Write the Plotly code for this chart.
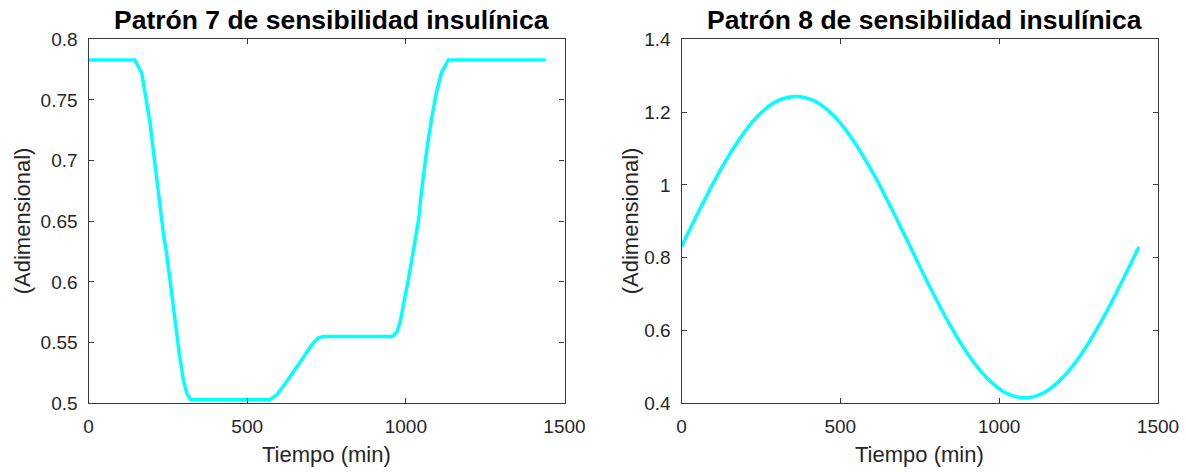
import plotly.graph_objects as go
from plotly.subplots import make_subplots

# Patrón 7: perfil por tramos (tiempo en min, valor adimensional)
t7 = [0, 146, 168, 181, 194, 204, 215, 227, 236, 246, 259, 273, 286, 299, 310, 322,
      572, 593, 614, 646, 677, 703, 724, 740,
      958, 972, 982, 992, 1008, 1024, 1040, 1050, 1066, 1082, 1098, 1113, 1134, 1440]
s7 = [0.783, 0.783, 0.772, 0.753, 0.731, 0.709, 0.684, 0.659, 0.640, 0.624, 0.596, 0.569, 0.541, 0.519, 0.508, 0.503,
      0.503, 0.507, 0.514, 0.526, 0.538, 0.548, 0.554, 0.555,
      0.555, 0.559, 0.567, 0.580, 0.602, 0.626, 0.651, 0.676, 0.709, 0.736, 0.758, 0.773, 0.783, 0.783]

# Patrón 8: variación ondulante a lo largo del día
t8 = [0, 60, 120, 180, 240, 300, 360, 420, 480, 540, 600, 660, 720,
      780, 840, 900, 960, 1020, 1080, 1140, 1200, 1260, 1320, 1380, 1440]
s8 = [0.830, 0.937, 1.037, 1.123, 1.189, 1.230, 1.243, 1.230, 1.189, 1.123, 1.037, 0.937, 0.830,
      0.723, 0.623, 0.537, 0.471, 0.429, 0.415, 0.429, 0.471, 0.537, 0.623, 0.723, 0.830]

titles = ["Patrón 7 de sensibilidad insulínica", "Patrón 8 de sensibilidad insulínica"]
x_title = "Tiempo (min)"
y_title = "(Adimensional)"

W, H = 1186, 472
FONT = "Liberation Sans, Arial, Helvetica, sans-serif"
AX = "#3a3a3a"
TXT = "#262626"

fig = make_subplots(rows=1, cols=2)
fig.add_trace(go.Scatter(x=t7, y=s7, mode="lines", line=dict(color="#00FFFF", width=3.5),
                         showlegend=False), row=1, col=1)
fig.add_trace(go.Scatter(x=t8, y=s8, mode="lines", line=dict(color="#00FFFF", width=3.5, shape="spline"),
                         showlegend=False), row=1, col=2)

# plot areas in pixels
left = (88.5, 564.5)
right = (681.5, 1158.0)
top, bottom = 39.3, 403.3
ydom = [1 - bottom / H, 1 - top / H]

axis_common = dict(
    showgrid=False, zeroline=False, showline=True, linecolor=AX, linewidth=1.2,
    mirror="allticks", ticks="inside", ticklen=5, tickwidth=1, tickcolor=AX,
    tickfont=dict(family=FONT, size=19, color=TXT), automargin=False,
)

fig.update_xaxes(range=[0, 1500], tickvals=[0, 500, 1000, 1500], ticklabelstandoff=6, **axis_common)
fig.update_yaxes(ticklabelstandoff=6, **axis_common)
fig.update_layout(
    xaxis=dict(domain=[left[0] / W, left[1] / W]),
    xaxis2=dict(domain=[right[0] / W, right[1] / W]),
    yaxis=dict(domain=ydom, range=[0.5, 0.8], tickvals=[0.5, 0.55, 0.6, 0.65, 0.7, 0.75, 0.8],
               ticktext=["0.5", "0.55", "0.6", "0.65", "0.7", "0.75", "0.8"]),
    yaxis2=dict(domain=ydom, range=[0.4, 1.4], tickvals=[0.4, 0.6, 0.8, 1.0, 1.2, 1.4],
                ticktext=["0.4", "0.6", "0.8", "1", "1.2", "1.4"]),
    width=W, height=H, margin=dict(l=0, r=0, t=0, b=0),
    paper_bgcolor="white", plot_bgcolor="white",
)

annotations = []
for (x0, x1), title, ylab_x in [(left, titles[0], 22), (right, titles[1], 630)]:
    cx = (x0 + x1) / 2 / W
    annotations.append(dict(text="<b>" + title + "</b>", x=cx + 5 / W, y=1 - 20 / H, xref="paper", yref="paper",
                            xanchor="center", yanchor="middle", showarrow=False,
                            font=dict(family=FONT, size=26.5, color="black")))
    annotations.append(dict(text=x_title, x=cx, y=1 - 454 / H, xref="paper", yref="paper",
                            xanchor="center", yanchor="middle", showarrow=False,
                            font=dict(family=FONT, size=22, color=TXT)))
    annotations.append(dict(text=y_title, x=ylab_x / W, y=1 - ((top + bottom) / 2) / H, xref="paper", yref="paper",
                            xanchor="center", yanchor="middle", textangle=-90, showarrow=False,
                            font=dict(family=FONT, size=22, color=TXT)))
fig.update_layout(annotations=annotations)

fig.write_html("out.html")
